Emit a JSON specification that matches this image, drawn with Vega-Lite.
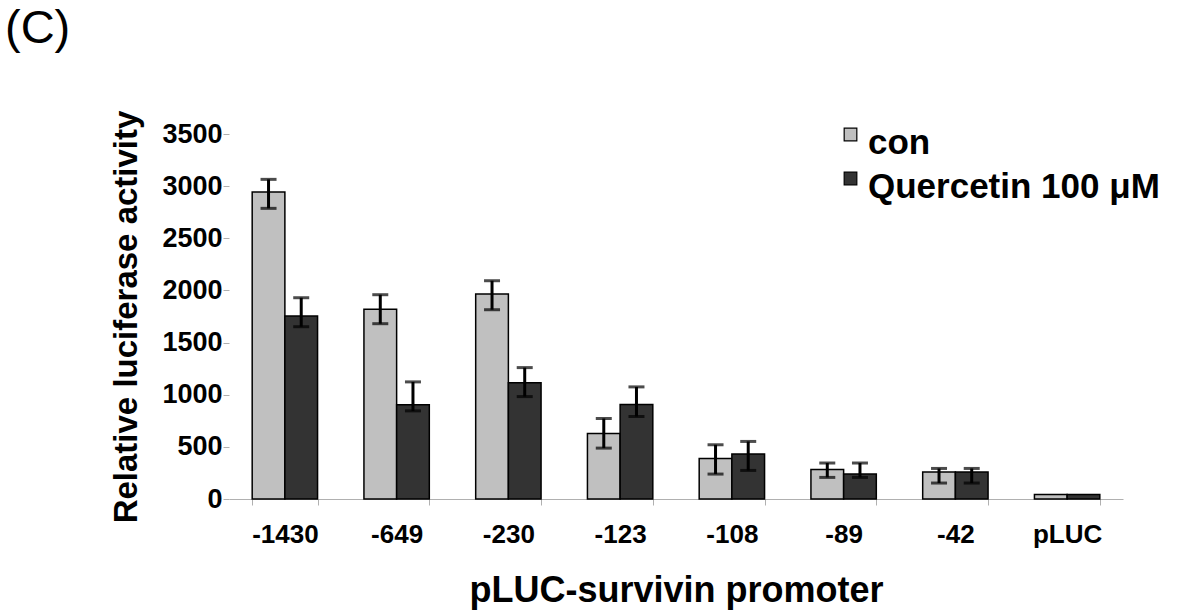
{
  "$schema": "https://vega.github.io/schema/vega-lite/v6.json",
  "width": 894,
  "height": 365,
  "padding": {"left": 5, "top": 5, "right": 5, "bottom": 5},
  "background": "white",
  "title": {"text": "(C)", "anchor": "start", "frame": "group", "dx": -224, "fontSize": 47, "fontWeight": "normal", "font": "Liberation Sans", "color": "black", "offset": 57},
  "config": {
    "view": {"stroke": null},
    "font": "Liberation Sans",
    "style": {"guide-label": {"lineHeight": 18}},
    "axisY": {
      "titleFontSize": 33, "titleFontWeight": "bold", "titleColor": "black",
      "labelFontSize": 27, "labelFontWeight": "bold", "labelColor": "black",
      "domain": false, "grid": false, "tickColor": "#b0b0b0", "tickSize": 6,
      "labelPadding": 1, "titlePadding": 18, "format": "d"
    }
  },
  "data": {"values": [
    {"promoter": "-1430", "group": "con", "value": 2945, "lo": 2787, "hi": 3065},
    {"promoter": "-1430", "group": "Quercetin 100 μM", "value": 1755, "lo": 1652, "hi": 1930},
    {"promoter": "-649", "group": "con", "value": 1820, "lo": 1681, "hi": 1959},
    {"promoter": "-649", "group": "Quercetin 100 μM", "value": 903, "lo": 845, "hi": 1123},
    {"promoter": "-230", "group": "con", "value": 1966, "lo": 1815, "hi": 2093},
    {"promoter": "-230", "group": "Quercetin 100 μM", "value": 1114, "lo": 982, "hi": 1260},
    {"promoter": "-123", "group": "con", "value": 628, "lo": 488, "hi": 772},
    {"promoter": "-123", "group": "Quercetin 100 μM", "value": 906, "lo": 791, "hi": 1075},
    {"promoter": "-108", "group": "con", "value": 389, "lo": 239, "hi": 520},
    {"promoter": "-108", "group": "Quercetin 100 μM", "value": 431, "lo": 274, "hi": 552},
    {"promoter": "-89", "group": "con", "value": 283, "lo": 207, "hi": 345},
    {"promoter": "-89", "group": "Quercetin 100 μM", "value": 239, "lo": 207, "hi": 345},
    {"promoter": "-42", "group": "con", "value": 258, "lo": 153, "hi": 293},
    {"promoter": "-42", "group": "Quercetin 100 μM", "value": 258, "lo": 153, "hi": 293},
    {"promoter": "pLUC", "group": "con", "value": 44, "lo": null, "hi": null},
    {"promoter": "pLUC", "group": "Quercetin 100 μM", "value": 44, "lo": null, "hi": null}
  ]},
  "encoding": {
    "x": {
      "field": "promoter", "type": "nominal",
      "sort": ["-1430", "-649", "-230", "-123", "-108", "-89", "-42", "pLUC"],
      "scale": {"paddingInner": 0.415, "paddingOuter": 0.2075},
      "axis": {
        "title": "pLUC-survivin promoter", "titleFontSize": 36, "titleFontWeight": "bold", "titleColor": "black",
        "labelFontSize": 26, "labelFontWeight": "bold", "labelColor": "black", "labelAngle": 0,
        "tickBand": "extent", "domainColor": "#b0b0b0", "tickColor": "#b0b0b0", "tickSize": 6,
        "labelPadding": 16, "titlePadding": 26
      }
    },
    "xOffset": {
      "field": "group", "type": "nominal", "sort": ["con", "Quercetin 100 μM"],
      "scale": {"paddingInner": 0, "paddingOuter": 0}
    }
  },
  "layer": [
    {
      "mark": {"type": "bar", "stroke": "black", "strokeWidth": 1.5},
      "encoding": {
        "y": {
          "field": "value", "type": "quantitative", "title": "Relative luciferase activity",
          "scale": {"domain": [0, 3500], "nice": false},
          "axis": {"values": [0, 500, 1000, 1500, 2000, 2500, 3000, 3500]}
        },
        "color": {
          "field": "group", "type": "nominal",
          "scale": {"domain": ["con", "Quercetin 100 μM"], "range": ["#c0c0c0", "#333333"]},
          "legend": {
            "title": null, "orient": "none", "legendX": 604, "legendY": -17,
            "symbolType": "square", "symbolSize": 160, "symbolStrokeColor": "black", "symbolStrokeWidth": 1.2,
            "labelFontSize": 35, "labelFontWeight": "bold", "labelFont": "Liberation Sans", "labelColor": "black",
            "labelBaseline": "line-top",
            "labelOffset": 0, "rowPadding": -3, "padding": 0, "labelLimit": 500
          }
        }
      }
    },
    {
      "transform": [{"filter": "datum.lo != null"}],
      "mark": {"type": "rule", "strokeWidth": 3, "color": "black"},
      "encoding": {
        "y": {"field": "lo", "type": "quantitative", "title": "Relative luciferase activity"},
        "y2": {"field": "hi"}
      }
    },
    {
      "transform": [{"filter": "datum.lo != null"}],
      "mark": {"type": "tick", "color": "black", "thickness": 3, "size": 16},
      "encoding": {
        "y": {"field": "lo", "type": "quantitative", "title": "Relative luciferase activity"}
      }
    },
    {
      "transform": [{"filter": "datum.hi != null"}],
      "mark": {"type": "tick", "color": "black", "thickness": 3, "size": 16},
      "encoding": {
        "y": {"field": "hi", "type": "quantitative", "title": "Relative luciferase activity"}
      }
    }
  ]
}
